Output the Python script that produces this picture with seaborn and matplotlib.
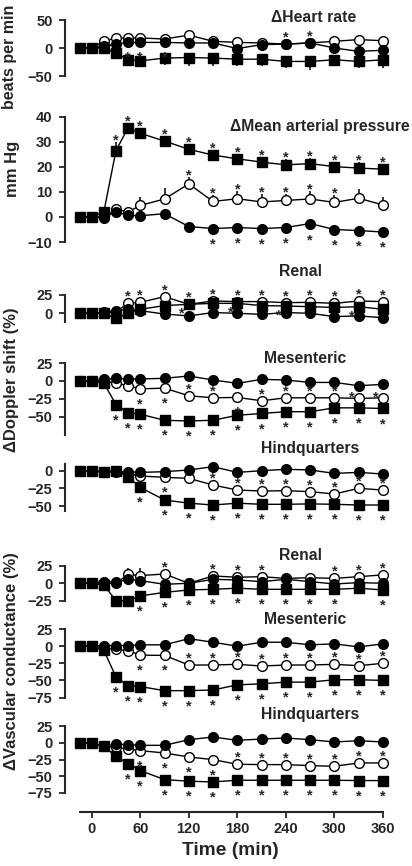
import numpy as np
import pandas as pd
import seaborn as sns
import matplotlib.pyplot as plt

# time points (min)
times = [-15, 0, 15, 30, 45, 60, 90, 120, 150, 180, 210, 240, 270, 300, 330, 360]

# heart rate (beats per min)
hr_sq = [0, 0, 0, -9, -21, -23, -18, -17, -18, -20, -20, -24, -24, -21, -24, -21]
hr_open = [0, 0, 12, 18, 18, 18, 16, 23, 12, 10, 9, 7, 9, 12, 15, 13]
hr_fill = [0, 0, 3, 7, 10, 10, 10, 9, 9, -1, 6, 7, 9, 0, -6, -4]
hr_sq_err = [0, 0, 0, 6, 9, 7, 12, 16, 15, 13, 13, 12, 15, 12, 12, 15]
hr_open_err = [0, 0, 3, 3, 3, 3, 3, 4, 3, 3, 3, 3, 3, 3, 9, 4]
hr_fill_err = [0, 0, 2, 2, 2, 2, 2, 2, 2, 2, 2, 2, 2, 2, 2, 2]

# mean arterial pressure (mm Hg)
map_sq = [0, 0, 2, 26.5, 35.6, 33.4, 30.3, 27, 24.7, 23.2, 21.9, 20.8, 21.3, 20.1, 19.5, 19.1]
map_open = [0, 0, -0.4, 3.2, 2, 4.6, 7.2, 13.2, 6.2, 7.3, 6, 6.6, 7.2, 5.8, 7.5, 4.8]
map_fill = [0, 0, 0, 2, 0.7, 0.5, 1.3, -3.8, -4.6, -4.2, -4.6, -4.2, -2.6, -5, -5.4, -6]
map_sq_err = [0, 0, 1, 3.6, 1, 1, 1.5, 1.5, 2.2, 2, 2, 2.3, 2.2, 1.8, 2.4, 2.1]
map_open_err = [0, 0, 1, 2, 2, 3.3, 4.4, 2.6, 2.6, 3, 3, 2.6, 3, 3, 3.6, 3.2]
map_fill_err = [0, 0, 0, 0.5, 0.5, 0.5, 2, 1, 1.5, 1.5, 1.5, 1.5, 2.6, 1.5, 1.5, 1.5]

# Doppler shift (%)
rd_sq = [0, 0, 0, -7, 0, 5.5, 10.5, 12.3, 13.6, 13.6, 10.5, 10, 9, 8, 9, 5.5]
rd_open = [0, 0, 0, 2, 13.6, 15, 22.7, 12.3, 16.8, 16, 16, 14.5, 15, 13.6, 16.8, 16]
rd_fill = [0, 0, 1.4, 3.6, 5.5, 3.6, -1, -3.6, 1, 0, -1.4, 1, 0, -4.5, -3.6, -6]

md_sq = [0, 0, -3, -33, -44.6, -46.5, -55, -56, -55, -48, -45.5, -43, -43, -37.6, -37.6, -38.5]
md_open = [0, 0, 0, -3, -6.5, -11, -10, -20.7, -23.5, -23, -27.7, -23.5, -23.5, -23.5, -24.4, -23.5]
md_fill = [0, 0, 2.3, 3.8, 2.8, 2.8, 3.8, 7, 1.4, -3.3, 2.3, 1.4, -2, -2, -6.6, -4.7]

hd_sq = [0, 0, -2.4, 0, -8.5, -23.6, -41.5, -46, -48.6, -46, -47.6, -47.6, -47, -47.6, -48.6, -48.6]
hd_open = [0, 0, -1.4, 0, -4, -7.5, -9.4, -10.8, -20.3, -27.4, -28.8, -28.3, -29.7, -33, -25, -27.4]
hd_fill = [0, 0, -2.4, -1.4, -1.4, -2.4, -1.4, 1, 5.7, -2.4, 0, 2, 1, -3.8, -2.4, -4.7]

# vascular conductance (%)
rv_sq = [0, 0, -2.4, -25, -25, -18, -13, -9.5, -8.6, -7, -8.6, -8.6, -8.6, -8.6, -7, -9.5]
rv_open = [0, 0, 0, 0, 12.8, 11, 13.3, 0, 10.5, 8.6, 9.5, 7, 8, 7, 9.5, 12]
rv_fill = [0, 0, 2.4, 1.4, 5.7, 3.8, -1.4, 0, 5.7, 4.8, 2.4, 5.7, 2.4, -1, 1, 0]
rv_open_err = [0, 0, 0, 0, 9.5, 11, 2, 0, 2, 2, 2, 2, 2, 2, 2, 2]

mv_sq = [0, 0, -6, -45, -57.5, -59, -65, -65, -64, -56.5, -55, -52.5, -52.5, -49, -49, -50]
mv_open = [0, 0, -2, -4.8, -6.3, -13, -13.5, -27.5, -27.5, -26.5, -29, -27.5, -27.5, -26.5, -28.5, -25]
mv_fill = [0, 0, 1, 1, 1, 2, 2, 11, 5.8, 0, 5.8, 5.8, 2, 3.4, -1, 3.4]

hv_sq = [0, 0, -5, -20, -31, -41.5, -55, -57.5, -58.5, -56, -56, -56, -56, -56, -56.5, -56.5]
hv_open = [0, 0, -5, -6.5, -9, -11.5, -15, -21, -25, -32, -32.5, -32.5, -34, -35, -30, -30]
hv_fill = [0, 0, -5, -1.5, -2.5, -3.5, -3.5, 5, 9, 4, 6, 7.5, 5, 1.5, 3.5, 1.5]

# significance marks: a above, b below, l lower-left, u upper-left
hr_sig = ["................", "...........aa...", "....bbb........."]
map_sig = ["...aaaaaaaaaaaaa", ".......aaaaaaa..", "........bbbbbbbb"]
rd_sig = [".......l.l.l..l.", "....aaaaaaaaaaaa", "................"]
md_sig = ["...bbbbbbbbbbbbb", ".....bbaabaaaauu", "................"]
hd_sig = [".....bbbbbbbbbbb", "......b.aaaaaaaa", "................"]
rv_sig = [".....bbbbbbbbb.b", "......a.aaa..aaa", "................"]
mv_sig = ["...bbbbbbbbbbbbb", ".....bbaaaaaaaaa", "................"]
hv_sig = ["....bbbbbbbbbbbb", ".....bbbbaaaaaaa", "................"]

sns.set_theme(style="ticks")
plt.rcParams['font.family'] = ['Liberation Sans', 'DejaVu Sans']
plt.rcParams['font.weight'] = 'bold'

W, H = 412, 866
fig = plt.figure(figsize=(W / 100, H / 100), dpi=100)
PX = 0.72  # points per pixel

# panel layout: zero line pixel, px per unit, ylim, spine bounds, ticks
panels = [
    dict(s=(hr_sq, hr_open, hr_fill), e=(hr_sq_err, hr_open_err, hr_fill_err), d=(-1, 1, -1),
         sig=hr_sig, zero=48, k=0.56, ylim=(-55, 55), sb=(-50, 50), ticks=[-50, 0, 50]),
    dict(s=(map_sq, map_open, map_fill), e=(map_sq_err, map_open_err, map_fill_err), d=(1, 1, -1),
         sig=map_sig, zero=217, k=2.507, ylim=(-11, 41), sb=(-10, 40), ticks=[-10, 0, 10, 20, 30, 40]),
    dict(s=(rd_sq, rd_open, rd_fill), e=(None, None, None), d=(1, 1, 1),
         sig=rd_sig, zero=313.3, k=0.732, ylim=(-12.5, 27), sb=(-12.5, 25), ticks=[0, 25]),
    dict(s=(md_sq, md_open, md_fill), e=(None, None, None), d=(1, 1, 1),
         sig=md_sig, zero=381, k=0.714, ylim=(-75, 27), sb=(-75, 25), ticks=[-50, -25, 0, 25]),
    dict(s=(hd_sq, hd_open, hd_fill), e=(None, None, None), d=(1, 1, 1),
         sig=hd_sig, zero=470.7, k=0.706, ylim=(-57, 10), sb=(-57, 10), ticks=[-50, -25, 0]),
    dict(s=(rv_sq, rv_open, rv_fill), e=(None, rv_open_err, None), d=(1, 1, 1),
         sig=rv_sig, zero=583.3, k=0.70, ylim=(-27, 27), sb=(-25, 25), ticks=[-25, 0, 25]),
    dict(s=(mv_sq, mv_open, mv_fill), e=(None, None, None), d=(1, 1, 1),
         sig=mv_sig, zero=646.2, k=0.684, ylim=(-77, 27), sb=(-75, 25), ticks=[-75, -50, -25, 0, 25]),
    dict(s=(hv_sq, hv_open, hv_fill), e=(None, None, None), d=(1, 1, 1),
         sig=hv_sig, zero=743, k=0.665, ylim=(-75, 27), sb=(-75, 25), ticks=[-75, -50, -25, 0, 25]),
]

# marker styles: squares, open circles, filled circles
styles = [
    dict(marker='s', ms=6.8, mfc='black', z=5),
    dict(marker='o', ms=7.0, mfc='white', z=3),
    dict(marker='o', ms=7.0, mfc='black', z=4),
]

LEFT, RIGHT = 65, 395.1
STAR_SHIFT = -4.5  # px, '*' glyph sits high in its box

for i, p in enumerate(panels):
    lo, hi = p['ylim']
    top = p['zero'] - hi * p['k']
    bot = p['zero'] - lo * p['k']
    ax = fig.add_axes([LEFT / W, 1 - bot / H, (RIGHT - LEFT) / W, (bot - top) / H])
    ax.set_xlim(-33, 375)
    ax.set_ylim(lo, hi)
    ax.patch.set_alpha(0)

    for vals, err, dirn, sig, st in zip(p['s'], p['e'], p['d'], p['sig'], styles):
        df = pd.DataFrame({'t': times, 'v': vals})
        sns.lineplot(data=df, x='t', y='v', ax=ax, color='black', lw=1.0,
                     marker=st['marker'], markersize=st['ms'], markerfacecolor=st['mfc'],
                     markeredgecolor='black', markeredgewidth=1.0, zorder=st['z'],
                     clip_on=False, legend=False)
        v = np.array(vals, dtype=float)
        e = np.zeros_like(v) if err is None else np.array(err, dtype=float)
        if err is not None:
            ax.vlines(times, v, v + dirn * e, color='black', lw=1.1, zorder=st['z'] - 0.5, clip_on=False)
        up = e if dirn > 0 else np.zeros_like(e)
        dn = e if dirn < 0 else np.zeros_like(e)
        for t, y, eu, ed, c in zip(times, v, up, dn, sig):
            if c == '.':
                continue
            if c == 'a':
                off = (0, max(eu * p['k'] + 6, 11))
            elif c == 'b':
                off = (0, -max(ed * p['k'] + 6, 11))
            elif c == 'l':
                off = (-7, -5)
            else:
                off = (-7, 5)
            ax.annotate('*', xy=(t, y), xytext=(off[0] * PX, (off[1] + STAR_SHIFT) * PX),
                        textcoords='offset points', ha='center', va='center',
                        fontsize=10.5, fontweight='bold', annotation_clip=False, zorder=6)

    sns.despine(ax=ax, top=True, right=True, bottom=(i < len(panels) - 1))
    ax.spines['left'].set_bounds(*p['sb'])
    ax.spines['left'].set_linewidth(1.5)
    ax.set_yticks(p['ticks'])
    ax.tick_params(axis='y', direction='out', length=4, width=1.3, pad=5, labelsize=10.5)
    for lab in ax.get_yticklabels():
        lab.set_fontweight('bold')
    ax.set_xlabel('')
    ax.set_ylabel('')
    ax.grid(False)
    if i < len(panels) - 1:
        ax.set_xticks([])
    else:
        ax.spines['bottom'].set_position(('outward', 14))
        ax.spines['bottom'].set_bounds(-15, 360)
        ax.spines['bottom'].set_linewidth(1.5)
        ax.set_xticks([0, 60, 120, 180, 240, 300, 360])
        ax.tick_params(axis='x', direction='out', length=4, width=1.3, pad=3, labelsize=10.5)
        for lab in ax.get_xticklabels():
            lab.set_fontweight('bold')
        ax.set_xlabel('Time (min)', fontsize=13.8, fontweight='bold', labelpad=4)

# panel titles
titles = [("\u0394Heart rate", 313.5, 18), ("\u0394Mean arterial pressure", 320, 126),
          ("Renal", 300, 272), ("Mesenteric", 305, 358), ("Hindquarters", 310.5, 448),
          ("Renal", 300.5, 555.7), ("Mesenteric", 305, 620), ("Hindquarters", 310.5, 714)]
for txt, x, y in titles:
    fig.text(x / W, 1 - y / H, txt, ha='center', va='center', fontsize=11.3, fontweight='bold')

# y axis labels
ylabels = [("beats per min", 10, 57, 11.5), ("mm Hg", 12, 169, 12),
           ("\u0394Doppler shift (%)", 12, 380, 12), ("\u0394Vascular conductance (%)", 12, 661, 12)]
for txt, x, y, fs in ylabels:
    fig.text(x / W, 1 - y / H, txt, ha='center', va='center', rotation=90,
             fontsize=fs, fontweight='bold')

fig.savefig('out.png', dpi=100)
